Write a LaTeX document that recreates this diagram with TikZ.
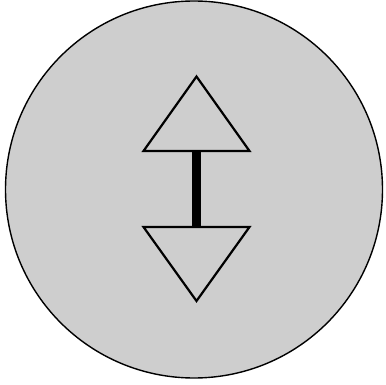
\documentclass[tikz,border=0pt]{standalone}
\usepackage{tikz}
\definecolor{dotgray}{RGB}{206,206,206}
\tikzset{
  disc/.style={draw,fill=dotgray,line width=1.4pt},
  tri/.style={draw,fill=dotgray,line width=2.2pt,line join=miter},
  stem/.style={line width=8.5pt}
}

\begin{document}
\begin{tikzpicture}[x=1pt,y=-1pt]
  \useasboundingbox (0,0) rectangle (386,385);
  \draw[disc] (194,189.5) circle[radius=188.5];
  % upper triangle
  \coordinate (upbase) at (196.5,151);
  \draw[tri] (196.5,76.5) -- (143.5,151) -- (249.5,151) -- cycle;
  % lower triangle
  \coordinate (downbase) at (196.5,227);
  \draw[tri] (143.5,227) -- (249.5,227) -- (196.5,301) -- cycle;
  \draw[stem] (upbase) -- (downbase);
\end{tikzpicture}
\end{document}
